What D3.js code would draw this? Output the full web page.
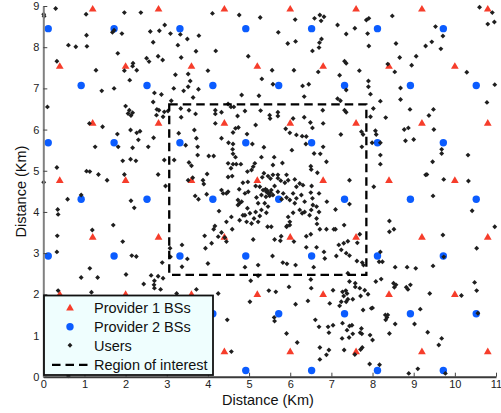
<!DOCTYPE html>
<html><head><meta charset="utf-8">
<script src="https://cdn.jsdelivr.net/npm/d3@7"></script>
<style>
html,body{margin:0;padding:0;background:#fff;}
svg{display:block;font-family:"Liberation Sans",Arial,Helvetica,sans-serif;}
</style></head>
<body><svg id="chart" width="501" height="413"></svg>
<script>
// ---- data (km) ----
const xTicks = [0,1,2,3,4,5,6,7,8,9,10,11];
const yTicks = [0,1,2,3,4,5,6,7,8,9];
const legendLabels = ["Provider 1 BSs","Provider 2 BSs","Users","Region of interest"];
const axisTitleX = "Distance (Km)";
const axisTitleY = "Distance (Km)";

// Provider 1 base stations (red triangles)
const provider1 = [
 [1.2,8.93],[2.8,8.93],[4.4,8.93],[6.0,8.93],[7.6,8.93],[9.2,8.93],[10.8,8.93],
 [0.4,7.54],[2.0,7.54],[3.6,7.54],[5.2,7.54],[6.8,7.54],[8.4,7.54],[10.0,7.54],
 [1.2,6.16],[2.8,6.16],[4.4,6.16],[6.0,6.16],[7.6,6.16],[9.2,6.16],[10.8,6.16],
 [0.4,4.77],[2.0,4.77],[3.6,4.77],[5.2,4.77],[6.8,4.77],[8.4,4.77],[10.0,4.77],
 [1.2,3.39],[2.8,3.39],[4.4,3.39],[6.0,3.39],[7.6,3.39],[9.2,3.39],[10.8,3.39],
 [0.4,2.0],[2.0,2.0],[3.6,2.0],[5.2,2.0],[6.8,2.0],[8.4,2.0],[10.0,2.0],
 [1.2,0.61],[2.8,0.61],[4.4,0.61],[6.0,0.61],[7.6,0.61],[9.2,0.61],[10.8,0.61]
];
// Provider 2 base stations (blue circles)
const provider2 = [
 [0.12,8.45],[1.72,8.45],[3.32,8.45],[4.92,8.45],[6.52,8.45],[8.12,8.45],[9.72,8.45],
 [0.92,7.07],[2.52,7.07],[4.12,7.07],[5.72,7.07],[7.32,7.07],[8.92,7.07],[10.52,7.07],
 [0.12,5.68],[1.72,5.68],[3.32,5.68],[4.92,5.68],[6.52,5.68],[8.12,5.68],[9.72,5.68],
 [0.92,4.31],[2.52,4.31],[4.12,4.31],[5.72,4.31],[7.32,4.31],[8.92,4.31],[10.52,4.31],
 [0.12,2.93],[1.72,2.93],[3.32,2.93],[4.92,2.93],[6.52,2.93],[8.12,2.93],[9.72,2.93],
 [0.92,1.53],[2.52,1.53],[4.12,1.53],[5.72,1.53],[7.32,1.53],[8.92,1.53],[10.52,1.53],
 [0.12,0.15],[1.72,0.15],[3.32,0.15],[4.92,0.15],[6.52,0.15],[8.12,0.15],[9.72,0.15]
];
// Users (black markers)
const users = [
 [0.01,8.8],[0.02,8.75],[0.3,8.94],[1.04,8.8],[1.97,8.84],[2.37,8.84],[2.95,8.54],[2.6,8.38],[2.82,8.4],[3.09,8.33],[3.33,8.31],[3.78,8.28],[1.68,8.36],[1.72,8.41],[1.91,8.33],[1.05,8.29],[0.61,8.05],[0.79,8.01],[1.06,8.02],[2.67,8.12],[3.27,8.05],[3.5,8.2],[3.71,7.9],[1.81,7.85],[0.33,7.66],[2.51,7.73],[2.57,7.65],[2.79,7.78],[2.9,7.69],[3.35,7.75],[2.18,7.61],[2.17,7.54],[2.27,7.44],[1.97,7.43],[1.28,7.44],[3.52,7.35],[3.57,7.18],[3.21,7.33],[2.1,7.2],[1.42,6.94],[1.72,7.0],[2.7,6.89],[2.87,6.85],[3.17,7.0],[3.41,6.94],[3.52,7.04],[3.77,6.98],[0.1,6.55],[2.0,6.57],[2.09,6.47],[2.06,6.39],[2.17,6.41],[2.13,6.34],[2.67,6.67],[3.11,6.7],[2.76,6.49],[2.81,6.47],[2.94,6.43],[2.75,6.35],[2.91,6.31],[3.03,6.45],[3.34,6.51],[3.35,6.3],[3.54,6.47],[3.7,6.38],[1.12,6.15],[1.44,6.07],[1.8,5.89],[2.12,5.99],[2.27,5.92],[2.35,5.96],[2.68,5.8],[3.29,5.91],[3.67,5.99],
 [4.11,8.82],[4.76,8.78],[5.27,8.72],[6.12,8.67],[6.59,8.7],[6.72,8.78],[6.82,8.74],[6.75,8.64],[7.15,8.54],[7.36,8.32],[4.19,7.91],[5.71,8.36],[5.94,8.09],[6.13,8.14],[6.71,8.11],[6.76,8.2],[6.7,7.99],[6.54,7.91],[4.98,7.78],[4.0,7.43],[5.31,7.23],[5.56,7.44],[6.09,7.44],[6.68,7.4],[7.32,7.66],[7.36,7.61],[7.2,7.32],[5.58,7.1],[6.3,7.06],[6.45,7.1],[3.64,6.78],[4.82,6.84],[5.24,6.82],[6.34,6.8],[7.15,6.75],[7.22,6.7],[4.49,6.62],[4.56,6.55],[4.63,6.55],[4.18,6.47],[4.18,6.38],[4.33,6.42],[4.9,6.45],[5.28,6.46],[4.72,6.33],[5.5,6.35],[5.51,6.27],[5.7,6.42],[5.7,6.33],[6.07,6.27],[6.34,6.3],[6.79,6.47],[7.32,6.47],[7.36,6.42],[4.18,6.15],[4.67,6.03],[4.61,5.93],[4.74,6.05],[5.16,6.11],[5.89,6.02],[5.99,5.92],[6.49,6.17],[6.54,6.04],[6.8,6.15],[4.95,5.89],[6.15,5.87],[6.29,5.84],[6.39,5.83],[7.23,5.88],[3.72,5.79],[4.33,5.79],
 [10.6,8.97],[10.91,8.84],[10.8,8.56],[10.96,8.61],[8.48,8.76],[7.85,8.66],[7.91,8.7],[7.57,8.46],[7.88,8.33],[7.91,8.03],[9.53,8.5],[9.71,8.27],[8.57,8.09],[9.44,8.13],[9.29,8.03],[9.66,7.96],[8.37,7.59],[8.66,7.75],[9.06,7.78],[8.95,7.56],[8.54,7.4],[7.68,7.43],[10.29,7.39],[7.9,7.18],[7.9,7.04],[7.95,6.86],[7.36,6.96],[8.68,7.01],[10.97,7.09],[8.19,6.69],[8.68,6.73],[10.78,6.66],[8.02,6.51],[7.95,6.31],[8.32,6.29],[8.91,6.49],[9.48,6.49],[9.37,6.34],[7.73,5.95],[7.77,5.88],[8.07,5.97],[8.09,5.88],[8.77,6.0],[8.87,6.04],[9.49,6.0],
 [0.01,4.72],[1.26,5.58],[1.82,5.58],[2.17,5.56],[2.55,5.58],[2.31,5.75],[1.93,5.24],[2.12,5.28],[2.25,5.24],[2.94,5.26],[3.18,5.26],[3.46,5.62],[3.75,5.58],[3.54,5.2],[3.6,5.12],[3.75,5.38],[3.69,4.39],[3.77,4.31],[3.63,4.83],[3.52,4.77],[0.33,5.08],[1.05,4.99],[1.13,4.98],[1.34,4.91],[1.55,4.77],[1.97,4.91],[2.79,4.91],[2.97,4.63],[0.92,4.41],[0.59,4.31],[2.13,4.27],[2.21,4.1],[0.35,4.06],[0.36,3.94],[1.19,3.56],[0.34,3.42],[1.7,3.68],[1.93,3.28],[0.33,3.03],[2.15,2.94],[2.26,2.92],[2.89,2.77],[1.13,2.63],[3.08,3.12],[3.09,2.91],[3.37,3.2],[3.5,2.86],[3.37,2.67],
 [5.08,5.65],[4.5,5.68],[4.61,5.65],[4.6,5.52],[4.61,5.41],[4.67,5.33],[5.36,5.57],[6.04,5.5],[6.38,5.65],[6.8,5.58],[6.58,5.42],[6.73,5.41],[4.02,5.36],[4.14,5.36],[5.3,5.33],[5.61,5.33],[5.81,5.19],[4.49,5.18],[4.61,5.16],[4.69,5.16],[4.8,5.16],[4.56,5.06],[5.14,5.18],[5.1,5.1],[5.06,5.02],[6.5,5.11],[6.51,5.03],[6.66,4.95],[6.88,5.22],[3.98,4.92],[3.88,4.77],[3.9,4.68],[4.33,4.53],[4.45,4.45],[4.37,4.45],[3.97,4.43],[6.52,4.63],[6.54,4.33],[6.7,4.45],[6.89,4.25],[7.1,4.06],[4.27,4.02],[6.64,4.13],[6.7,4.0],[6.64,3.84],[6.65,3.71],[6.72,3.58],[6.88,3.58],[7.06,3.58],[7.1,3.58],[7.31,3.68],[7.18,3.2],[7.4,3.29],[5.99,3.68],[5.91,3.64],[5.45,3.64],[5.54,3.64],[4.59,3.58],[4.17,3.66],[4.14,3.58],[3.92,3.42],[4.25,3.4],[4.33,3.5],[4.41,3.38],[4.45,3.28],[4.09,3.24],[3.94,3.12],[5.1,3.33],[5.62,3.33],[5.76,3.3],[5.78,3.41],[5.92,3.66],[6.09,3.28],[6.39,3.41],[6.5,3.46],[6.39,3.14],[6.64,3.14],[6.82,3.03],[6.84,2.87],[7.3,3.24],[7.36,3.0],[5.57,2.93],[5.82,2.77],[5.92,2.74],[5.22,2.71],[4.9,2.66],[4.0,2.75],[6.13,2.71],[6.57,2.66],[7.12,2.93],[7.24,3.08],[4.76,4.55],[4.85,4.71],[4.97,4.73],[5.16,4.63],
 [5.58,5.14],[4.49,4.85],[4.59,4.87],[4.96,4.98],[5.36,4.94],[5.32,4.84],[5.46,4.87],[5.52,4.81],[5.58,4.9],[5.7,4.9],[5.7,4.82],[5.77,4.76],[5.87,4.71],[5.95,4.77],[5.91,4.9],[6.11,4.79],[6.23,4.69],[5.26,4.61],[5.34,4.53],[5.42,4.49],[5.48,4.45],[5.54,4.53],[5.41,4.37],[5.5,4.39],[5.3,4.41],[5.58,4.41],[5.62,4.63],[5.18,4.35],[5.22,4.21],[5.38,4.21],[5.46,4.13],[5.42,3.98],[5.3,4.05],[4.98,4.49],[4.9,4.45],[4.73,4.29],[4.77,4.21],[4.82,4.25],[4.73,4.17],[4.96,4.09],[4.9,3.92],[5.02,3.97],[5.16,4.0],[5.26,3.9],[5.12,3.84],[5.22,3.76],[5.06,3.72],[4.94,3.76],[5.7,4.49],[5.83,4.45],[5.91,4.35],[5.79,4.31],[5.99,4.29],[6.07,4.45],[6.15,4.33],[6.27,4.41],[6.35,4.25],[6.11,4.21],[6.23,4.05],[6.29,3.97],[6.35,4.0],[6.47,3.92],[6.51,4.05],[6.55,4.17],[6.07,3.98],[5.95,3.88],[5.99,3.76],[6.15,4.61],[6.31,4.65],[6.5,4.47],[4.49,4.49],[4.77,3.8],[4.85,3.92],[4.45,3.76],[4.57,3.88],[5.44,4.52],[5.46,4.46],[5.40,4.55],[5.52,4.47],
 [7.74,5.58],[7.99,5.68],[8.19,5.68],[8.8,5.73],[9.0,5.76],[9.68,5.52],[9.68,5.42],[10.32,5.38],[9.46,5.22],[8.19,5.38],[8.19,5.16],[9.29,4.9],[9.32,4.91],[9.73,4.79],[10.33,4.75],[7.44,4.77],[8.03,4.61],[9.47,4.39],[7.44,4.19],[10.42,4.03],[8.41,3.78],[8.41,3.52],[8.52,3.58],[10.97,3.64],[9.71,3.44],[7.69,3.46],[7.63,3.25],[10.53,3.12],[8.19,3.03],[8.16,2.79],[8.24,2.79],[7.44,2.94],[7.62,2.81],[7.75,2.77],[7.78,2.71],[8.55,2.66],[8.84,2.66],[9.05,2.63],[9.47,2.69],[9.73,2.91],
 [0.92,2.41],[1.32,2.41],[0.36,2.09],[1.17,2.05],[2.01,2.48],[2.44,2.25],[2.62,2.46],[2.7,2.33],[2.69,2.23],[2.7,2.15],[2.79,2.44],[2.91,2.39],[2.85,2.12],[3.24,2.02],[3.72,2.12],[0.61,0.02],
 [5.04,2.33],[5.22,2.45],[4.25,2.02],[5.02,1.82],[5.48,2.09],[5.65,2.06],[5.97,2.18],[6.13,1.76],[6.5,2.36],[6.51,2.15],[6.43,1.84],[7.04,2.1],[6.96,1.78],[7.27,2.06],[7.35,2.09],[7.38,2.02],[7.3,1.96],[7.24,1.82],[7.2,1.72],[7.36,1.82],[7.4,1.88],[7.4,2.51],[5.61,1.44],[5.62,1.35],[4.47,1.38],[6.61,1.38],[6.7,1.21],[6.92,1.21],[6.94,1.07],[7.04,1.25],[7.27,1.3],[5.91,1.05],[6.17,0.83],[7.26,0.93],[7.31,0.65],[6.72,0.71],[6.94,0.65],[6.88,0.53],[6.72,0.42],[4.57,0.61],
 [7.44,2.31],[7.58,2.27],[7.58,2.18],[8.08,2.31],[8.21,2.37],[8.51,2.27],[8.57,2.23],[8.53,2.17],[8.82,2.17],[8.86,2.12],[8.92,2.23],[9.39,2.02],[10.16,1.97],[10.48,2.29],[10.53,2.09],[7.69,2.15],[7.71,1.96],[7.52,1.88],[7.81,2.1],[7.89,2.0],[7.77,1.62],[7.97,1.66],[8.0,1.67],[8.31,1.5],[8.37,1.5],[8.32,1.38],[8.35,1.44],[8.55,1.28],[8.41,1.05],[9.02,1.28],[9.16,1.64],[7.44,1.23],[7.5,1.25],[7.38,1.13],[7.43,0.95],[7.52,1.04],[7.73,1.17],[7.74,1.04],[7.7,1.07],[7.94,1.01],[8.0,0.89],[7.75,0.71],[7.71,0.66],[7.57,0.54],[9.34,1.08],[9.68,0.93],[9.61,0.77],[7.93,0.31],[8.17,0.29],[8.88,0.08],[9.1,0.19],[9.77,0.08],[10.56,1.54]
];
// Region of interest [x0, x1, y0, y1] in km
const region = [3.06, 7.85, 2.47, 6.61];

// ---- drawing ----
const svg = d3.select("#chart");
const x = d3.scaleLinear().domain([0,11]).range([43.3,496]);
const y = d3.scaleLinear().domain([0,9]).range([376.7,6]);

const red = "#f63d2b", blue = "#0b5cff", ink = "#1e1e1e";

// BS markers
const tri = d3.symbol().type(d3.symbolTriangle).size(26);
const usr = d3.symbol().type(d3.symbolSquare).size(12);
svg.append("g").selectAll("path").data(provider1).join("path")
  .attr("d", tri).attr("transform", d => `translate(${x(d[0])},${y(d[1])+0.5})`).attr("fill", red);
svg.append("g").selectAll("circle").data(provider2).join("circle")
  .attr("cx", d => x(d[0])).attr("cy", d => y(d[1])).attr("r", 3.7).attr("fill", blue);
// Users (small diamonds)
svg.append("g").selectAll("path").data(users).join("path")
  .attr("d", usr).attr("transform", d => `translate(${x(d[0])},${y(d[1])}) rotate(45)`).attr("fill", ink);

// Region of interest
svg.append("rect")
  .attr("x", x(region[0])).attr("y", y(region[3]))
  .attr("width", x(region[1]) - x(region[0])).attr("height", y(region[2]) - y(region[3]))
  .attr("fill", "none").attr("stroke", "#000").attr("stroke-width", 2.3)
  .attr("stroke-dasharray", "8.5,5");

// Axes
const gx = svg.append("g").attr("transform", `translate(0,${y(0)})`)
  .call(d3.axisBottom(x).tickValues(xTicks).tickFormat(d3.format("d")).tickSizeInner(-4).tickSizeOuter(0).tickPadding(4));
const gy = svg.append("g").attr("transform", `translate(${x(0)},0)`)
  .call(d3.axisLeft(y).tickValues(yTicks).tickFormat(d3.format("d")).tickSizeInner(-4).tickSizeOuter(0).tickPadding(4));
[gx, gy].forEach(g => {
  g.selectAll("text").attr("font-size", 11).attr("fill", "#222").attr("font-family", "'Liberation Sans',Arial,sans-serif");
  g.selectAll("line").attr("stroke", "#444").attr("stroke-width", 1);
});
gx.select(".domain").attr("stroke", "#3a3a3a").attr("stroke-width", 2);
gy.select(".domain").attr("stroke", "#808080").attr("stroke-width", 2);

// Axis titles
svg.append("text").attr("x", 268).attr("y", 400).attr("dy", "0.35em")
  .attr("text-anchor", "middle").attr("font-size", 14.5).attr("fill", "#111").text(axisTitleX);
svg.append("text").attr("transform", `translate(20.5,191.5) rotate(-90)`).attr("dy", "0.35em")
  .attr("text-anchor", "middle").attr("font-size", 14.5).attr("fill", "#111").text(axisTitleY);

// Legend
const lg = svg.append("g");
lg.append("rect").attr("x", 44).attr("y", 295.5).attr("width", 169).attr("height", 79.5)
  .attr("fill", "#effefe").attr("stroke", "#111").attr("stroke-width", 1.8);
const rowsY = [307.7, 326.7, 345.3, 364.8];
lg.append("path").attr("d", tri).attr("transform", `translate(70,${rowsY[0]+0.5})`).attr("fill", red);
lg.append("circle").attr("cx", 70).attr("cy", rowsY[1]).attr("r", 3.7).attr("fill", blue);
lg.append("path").attr("d", usr).attr("transform", `translate(70,${rowsY[2]}) rotate(45)`).attr("fill", ink);
lg.append("line").attr("x1", 52).attr("x2", 89.5).attr("y1", rowsY[3]).attr("y2", rowsY[3])
  .attr("stroke", "#000").attr("stroke-width", 2.3).attr("stroke-dasharray", "8.5,5");
lg.selectAll("text.lab").data(legendLabels).join("text").attr("class", "lab")
  .attr("x", 94).attr("y", (d,i) => rowsY[i]).attr("dy", "0.36em")
  .attr("font-size", 14.5).attr("fill", "#111").text(d => d);
</script></body></html>
